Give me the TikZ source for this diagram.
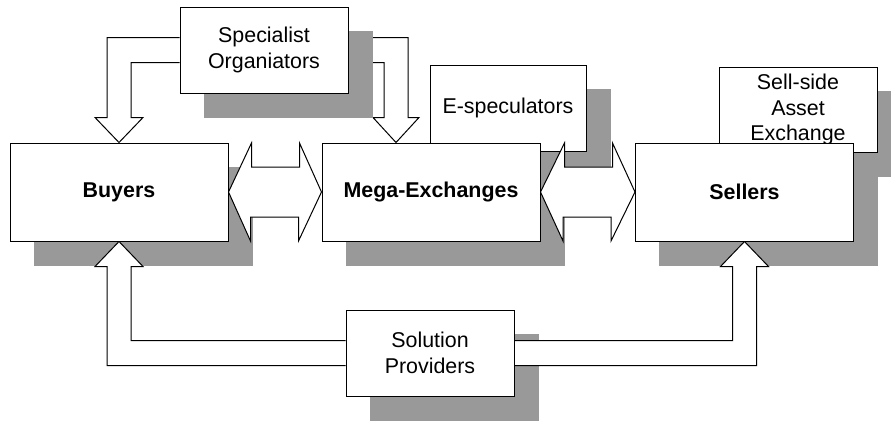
\documentclass[tikz,border=0pt]{standalone}
\usepackage{fontspec}
\setmainfont{Liberation Sans}
\usetikzlibrary{calc}
\pgfdeclarelayer{under}
\pgfdeclarelayer{shadows}
\pgfdeclarelayer{links}
\pgfsetlayers{under,shadows,links,main}
\definecolor{shadowgray}{gray}{0.6}
\tikzset{
  panel/.style={draw, fill=white, line width=1pt, inner sep=0pt, align=center,
    text=black, font=\fontsize{21.4}{25.5}\selectfont},
  bigpanel/.style={panel, minimum width=218pt, minimum height=98pt,
    font=\fontsize{21.4}{25.5}\selectfont\bfseries},
  smallpanel/.style={panel, minimum width=168pt, minimum height=86pt},
  blockarrow/.style={draw, fill=white, line width=1pt}
}
\begin{document}
\begin{tikzpicture}[x=1pt,y=-1pt]
\useasboundingbox (0,0) rectangle (891,423);

% main boxes
\node[bigpanel] (buy) at (119,192) {Buyers};
\node[bigpanel] (mega) at (431,192) {Mega-Exchanges};
\node[bigpanel] (sell) at (744.5,192) {Sellers};
\node[smallpanel] (spec) at (264,50) {Specialist\\Organiators};
\node[smallpanel] (sol) at (430,353) {Solution\\Providers};

% side boxes and the shadows
\begin{pgfonlayer}{shadows}
\node[smallpanel,minimum width=156pt] (espec) at (508,108) {E-speculators};
\node[smallpanel,minimum width=158pt,minimum height=85pt] (sside) at (798,109.5) {Sell-side\\Asset\\Exchange};
\fill[shadowgray] ($(buy.south west)+(24,24)$) rectangle ($(buy.north east)+(24,24)$);
\fill[shadowgray] ($(mega.south west)+(24,24)$) rectangle ($(mega.north east)+(24,24)$);
\fill[shadowgray] ($(sell.south west)+(24,24)$) rectangle ($(sell.north east)+(24,24)$);
\fill[shadowgray] ($(spec.south west)+(24,24)$) rectangle ($(spec.north east)+(24,24)$);
\fill[shadowgray] ($(sol.south west)+(24,24)$) rectangle ($(sol.north east)+(24,24)$);
\end{pgfonlayer}

\begin{pgfonlayer}{under}
\fill[shadowgray] ($(espec.south west)+(24,24)$) rectangle ($(espec.north east)+(24,24)$);
\fill[shadowgray] ($(sside.south west)+(24,24)$) rectangle ($(sside.north east)+(24,24)$);
% specialist organiators to buyers and mega-exchanges
\draw[blockarrow] ($(spec.west)+(0,-12.5)$) -| ($(buy.north)+(-12,-25)$) -- ++(-12,0) -- (buy.north)
  -- ++(24,-25) -- ++(-12,0) |- ($(spec.west)+(0,12.5)$);
\draw[blockarrow] ($(spec.east)+(0,-12.5)$) -| ($(mega.north)+(-23,-25)$) -- ++(11,0) -- ($(mega.north)+(-35,0)$)
  -- ++(-23,-25) -- ++(11,0) |- ($(spec.east)+(0,12.5)$);
\end{pgfonlayer}

\begin{pgfonlayer}{links}
% two-way arrows
\draw[blockarrow] (buy.east) -- ++(23,-49) -- ++(0,24) -- ++(48,0) -- ++(0,-24) -- (mega.west)
  -- ++(-23,49) -- ++(0,-24) -- ++(-48,0) -- ++(0,24) -- cycle;
\draw[blockarrow] (mega.east) -- ++(24,-49) -- ++(0,24) -- ++(48,0) -- ++(0,-24) -- (sell.west)
  -- ++(-24,49) -- ++(0,-24) -- ++(-48,0) -- ++(0,24) -- cycle;
% solution providers to buyers and sellers
\draw[blockarrow] ($(sol.west)+(0,-12.5)$) -| ($(buy.south)+(12,25)$) -- ++(12,0) -- (buy.south)
  -- ++(-24,25) -- ++(12,0) |- ($(sol.west)+(0,12.5)$);
\draw[blockarrow] ($(sol.east)+(0,-12.5)$) -| ($(sell.south)+(-12,25)$) -- ++(-12,0) -- (sell.south)
  -- ++(24,25) -- ++(-12,0) |- ($(sol.east)+(0,12.5)$);
\end{pgfonlayer}
\end{tikzpicture}
\end{document}
